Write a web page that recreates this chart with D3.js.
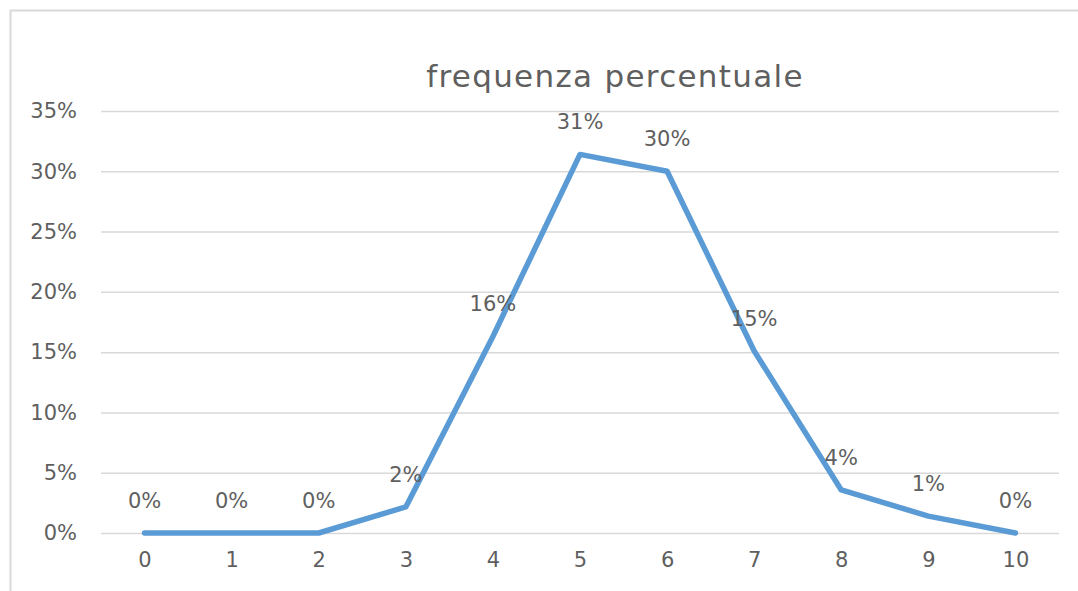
<!DOCTYPE html>
<html>
<head>
<meta charset="utf-8">
<script src="https://cdn.jsdelivr.net/npm/d3@7"></script>
<style>
  html, body { margin: 0; padding: 0; background: #ffffff; }
  svg { display: block; }
</style>
</head>
<body>
<svg id="chart" width="1078" height="591"></svg>
<script>
const categories = ["0", "1", "2", "3", "4", "5", "6", "7", "8", "9", "10"];
const values = [0, 0, 0, 0.0216, 0.163, 0.314, 0.300, 0.151, 0.0357, 0.014, 0];
const yTicks = [0, 0.05, 0.10, 0.15, 0.20, 0.25, 0.30, 0.35];
const title = "frequenza percentuale";

const svg = d3.select("#chart");
const W = 1078, H = 591;
const margin = { left: 101, right: 19, top: 111, bottom: 58 };
const font = "'DejaVu Sans', sans-serif";
const textColor = "#5f5f5f";

svg.append("rect").attr("x", 0).attr("y", 0).attr("width", W).attr("height", H).attr("fill", "#fff");
// chart border (left and top visible)
svg.append("path")
  .attr("d", `M10.5,${H} L10.5,10.5 L${W},10.5`)
  .attr("fill", "none").attr("stroke", "#d9d9d9").attr("stroke-width", 2);

const x = d3.scalePoint().domain(categories).range([margin.left, W - margin.right]).padding(0.5);
const y = d3.scaleLinear().domain([0, 0.35]).range([H - margin.bottom, margin.top]);

// gridlines
const gridAxis = d3.axisLeft(y).tickValues(yTicks).tickSize(-(W - margin.right - margin.left)).tickFormat("");
const gg = svg.append("g").attr("transform", `translate(${margin.left},0)`).call(gridAxis);
gg.select(".domain").remove();
gg.selectAll("line").attr("stroke", "#d9d9d9").attr("stroke-width", 1.5);

// y tick labels
const yAxis = d3.axisLeft(y).tickValues(yTicks).tickSize(0).tickPadding(24).tickFormat(d3.format(".0%"));
const ya = svg.append("g").attr("transform", `translate(${margin.left},0)`).call(yAxis);
ya.select(".domain").remove();
ya.selectAll("text").attr("font-family", font).attr("font-size", 21).attr("fill", textColor);

// x tick labels
const xAxis = d3.axisBottom(x).tickSize(0).tickPadding(19);
const xa = svg.append("g").attr("transform", `translate(0,${H - margin.bottom})`).call(xAxis);
xa.select(".domain").remove();
xa.selectAll("text").attr("font-family", font).attr("font-size", 21).attr("fill", textColor);

// line
const line = d3.line().x((d, i) => x(categories[i])).y(d => y(d));
svg.append("path").datum(values)
  .attr("d", line)
  .attr("fill", "none")
  .attr("stroke", "#5b9bd5")
  .attr("stroke-width", 5.5)
  .attr("stroke-linejoin", "round")
  .attr("stroke-linecap", "round");

// data labels
svg.append("g").selectAll("text").data(values).join("text")
  .attr("x", (d, i) => x(categories[i]))
  .attr("y", d => y(d) - 25)
  .attr("text-anchor", "middle")
  .attr("font-family", font).attr("font-size", 21).attr("fill", textColor)
  .text(d => d3.format(".0%")(d));

// title
svg.append("text")
  .attr("x", 615).attr("y", 87)
  .attr("text-anchor", "middle")
  .attr("font-family", font).attr("font-size", 31)
  .attr("letter-spacing", 1.3)
  .attr("fill", textColor)
  .text(title);
</script>
</body>
</html>
